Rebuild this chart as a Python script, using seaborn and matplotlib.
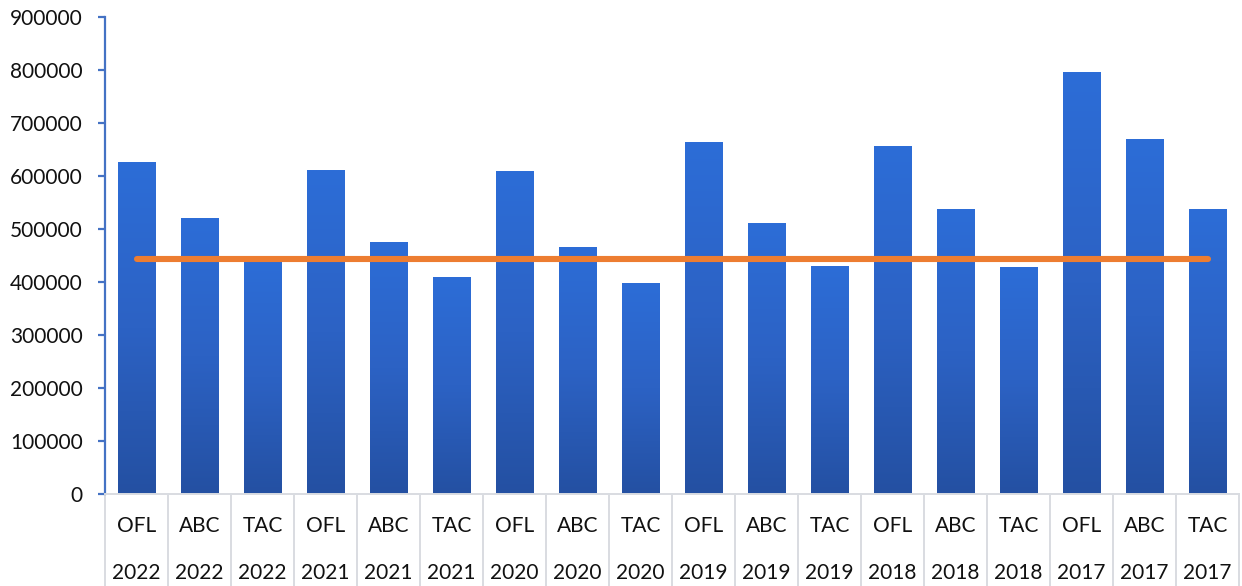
import numpy as np
import pandas as pd
import matplotlib
matplotlib.use("Agg")
import matplotlib.pyplot as plt
import seaborn as sns
from matplotlib.colors import LinearSegmentedColormap
from matplotlib.transforms import blended_transform_factory
from matplotlib.lines import Line2D

# Catch limits by year: overfishing limit, acceptable biological catch, total allowable catch
measures = ["OFL", "ABC", "TAC"] * 6
years = ["2022"] * 3 + ["2021"] * 3 + ["2020"] * 3 + ["2019"] * 3 + ["2018"] * 3 + ["2017"] * 3
values = [626000, 519000, 441000,
          611000, 475000, 408000,
          608000, 466000, 398000,
          664000, 510000, 430000,
          655000, 536000, 427000,
          796000, 668000, 536000]
reference_level = 443000
y_ticks = [0, 100000, 200000, 300000, 400000, 500000, 600000, 700000, 800000, 900000]

df = pd.DataFrame({"measure": measures, "year": years, "value": values})
df["slot"] = np.arange(len(df))
df["level"] = reference_level

sns.set_theme(style="white")
plt.rcParams["font.family"] = ["Lato", "DejaVu Sans"]

fig = plt.figure(figsize=(12.42, 5.86), dpi=100)
ax = fig.add_axes([105 / 1242, 92 / 586, 1134 / 1242, 477 / 586])

sns.barplot(data=df, x="slot", y="value", color="#2C66CC", width=0.59,
            saturation=1, errorbar=None, ax=ax)

# vertical gradient fill for every bar (lighter at the top, darker at the base)
grad_cmap = LinearSegmentedColormap.from_list("bar_grad", ["#2450A2", "#2C62C4", "#2D6DD7"])
grad = np.linspace(0, 1, 256).reshape(-1, 1)
for p in ax.patches:
    x0, w, h = p.get_x(), p.get_width(), p.get_height()
    p.set_facecolor("none")
    p.set_edgecolor("none")
    ax.imshow(grad, extent=[x0, x0 + w, 0, h], origin="lower", aspect="auto",
              cmap=grad_cmap, zorder=2, interpolation="bilinear")

sns.lineplot(data=df, x="slot", y="level", color="#ED7D31", linewidth=4.4,
             ax=ax, zorder=3, solid_capstyle="round")

ax.set_xlim(-0.5, len(df) - 0.5)
ax.set_ylim(0, 900000)
ax.set_yticks(y_ticks)
ax.set_yticklabels([str(t) for t in y_ticks], fontsize=15, color="#111111")
ax.set_xticks([])
ax.set_xlabel("")
ax.set_ylabel("")

for side in ["top", "right"]:
    ax.spines[side].set_visible(False)
ax.spines["left"].set_color("#4472C4")
ax.spines["left"].set_linewidth(1.6)
ax.spines["bottom"].set_color("#D9DCE1")
ax.spines["bottom"].set_linewidth(1.4)
ax.tick_params(axis="y", direction="out", length=5, width=1.6, color="#4472C4", pad=11, left=True)

# two-level category axis drawn as a grid of cells
trans = blended_transform_factory(ax.transData, ax.transAxes)
cell_bottom = -92 / 477
for b in np.arange(-0.5, len(df), 1.0):
    ax.add_line(Line2D([b, b], [0, cell_bottom], transform=trans, color="#D9DCE1",
                       linewidth=1.4, clip_on=False))
for i, (m, yr) in enumerate(zip(measures, years)):
    ax.text(i, -32 / 477, m, transform=trans, ha="center", va="center",
            fontsize=15, color="#111111")
    ax.text(i, -79 / 477, yr, transform=trans, ha="center", va="center",
            fontsize=15, color="#111111")

fig.savefig("out.png", dpi=100)
